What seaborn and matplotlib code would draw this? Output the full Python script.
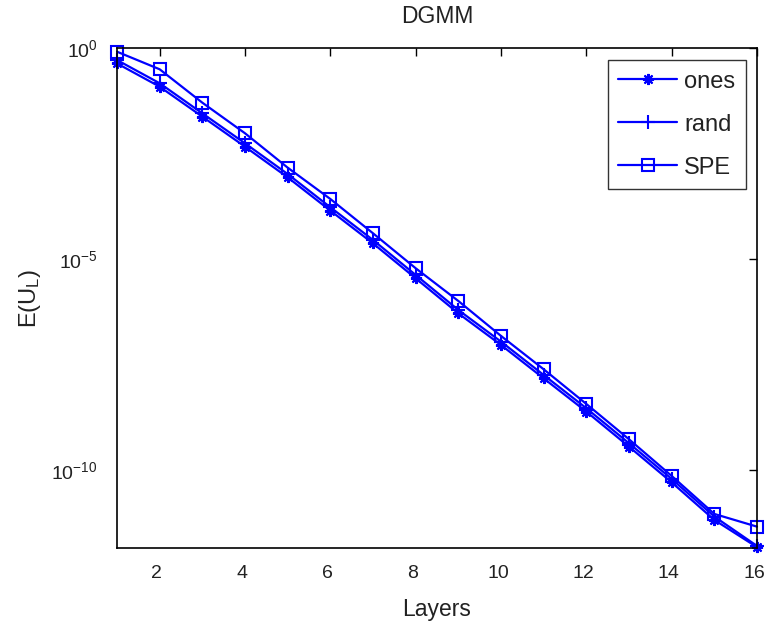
import matplotlib
matplotlib.use("Agg")
import matplotlib.pyplot as plt
import matplotlib.transforms as mtransforms
import seaborn as sns
import numpy as np
import pandas as pd
from matplotlib.ticker import FixedLocator, LogFormatterSciNotation, NullLocator

layers = list(range(1, 17))
ones = [0.431, 0.121, 2.36e-2, 4.58e-3, 8.59e-4, 1.40e-4, 2.34e-5, 3.48e-6,
        5.14e-7, 9.16e-8, 1.48e-8, 2.41e-9, 3.56e-10, 5.08e-11, 6.53e-12, 1.48e-12]
rand = [0.519, 0.146, 2.83e-2, 5.51e-3, 1.03e-3, 1.68e-4, 2.82e-5, 4.18e-6,
        6.18e-7, 1.10e-7, 1.78e-8, 2.90e-9, 4.29e-10, 6.11e-11, 7.85e-12, 1.58e-12]
spe = [0.817, 0.313, 5.06e-2, 9.53e-3, 1.46e-3, 2.64e-4, 4.06e-5, 6.03e-6,
       1.01e-6, 1.50e-7, 2.43e-8, 3.66e-9, 5.33e-10, 7.21e-11, 9.06e-12, 4.53e-12]
series_names = ["ones", "rand", "SPE"]
xticks = [2, 4, 6, 8, 10, 12, 14, 16]
yticks = [1e-10, 1e-5, 1e0]

sns.set_style("white")
plt.rcParams["font.family"] = ["Liberation Sans", "DejaVu Sans"]
plt.rcParams["mathtext.default"] = "regular"
plt.rcParams["mathtext.fontset"] = "custom"
plt.rcParams["mathtext.rm"] = "Liberation Sans"

fig = plt.figure(figsize=(7.66, 6.28), dpi=100)
ax = fig.add_axes([117/766, 1-548/628, 640/766, 500/628])

blue = "#0000FF"
styles = [
    dict(marker=(8, 2, 0), markersize=8, markeredgewidth=1.5),
    dict(marker="+", markersize=10, markeredgewidth=1.5),
    dict(marker="s", markersize=9, markeredgewidth=1.5, markerfacecolor="none"),
]
for name, vals, st in zip(series_names, [ones, rand, spe], styles):
    sns.lineplot(x=layers, y=vals, ax=ax, color=blue, linewidth=1.6,
                 markeredgecolor=blue, label=name, clip_on=False, **st)

ax.set_yscale("log")
ax.set_xlim(1, 16)
ax.set_ylim(10**-11.85, 1.0)
ax.set_xticks(xticks)
ax.set_xticklabels([str(t) for t in xticks])
ax.yaxis.set_major_locator(FixedLocator(yticks))
ax.yaxis.set_major_formatter(LogFormatterSciNotation())
ax.yaxis.set_minor_locator(NullLocator())
ax.xaxis.set_minor_locator(NullLocator())

ax.tick_params(direction="in", length=6, width=1, top=True, right=True,
               labelsize=14, colors="black")
ax.tick_params(axis="x", pad=12)
ax.tick_params(axis="y", pad=14)
for lbl in ax.get_xticklabels():
    lbl.set_transform(lbl.get_transform() +
                      mtransforms.ScaledTranslation(-3/100, 0, fig.dpi_scale_trans))
for lbl in ax.get_xticklabels() + ax.get_yticklabels():
    lbl.set_color("#222222")
for sp in ax.spines.values():
    sp.set_visible(True)
    sp.set_color("black")
    sp.set_linewidth(1.2)

ax.set_xlabel("Layers", fontsize=16.5, color="#222222", labelpad=12)
ax.set_ylabel("E(U$_L$)", fontsize=17, color="#222222", labelpad=6)
ax.set_title("DGMM", fontsize=16.5, color="#222222", pad=18)

leg = ax.legend(loc="upper right", fontsize=17, frameon=True,
                fancybox=False, edgecolor="black", handlelength=2.5,
                labelspacing=0.89, borderpad=0.45, handletextpad=0.3,
                borderaxespad=0.0)
leg.set_bbox_to_anchor((746/766, 1 - 60/628), transform=fig.transFigure)
leg.get_frame().set_linewidth(1.0)
for t in leg.get_texts():
    t.set_color("#222222")

fig.savefig("out.png", dpi=100, facecolor="white")
